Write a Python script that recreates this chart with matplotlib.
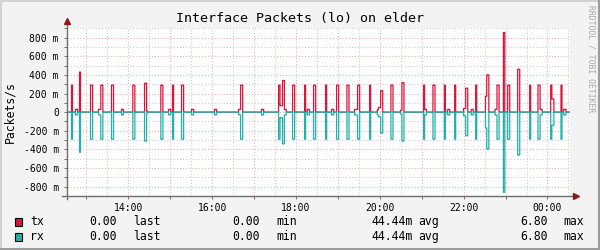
import numpy as np
import matplotlib
matplotlib.use('Agg')
import matplotlib.pyplot as plt
from matplotlib.patches import Rectangle
from matplotlib.lines import Line2D

plt.rcParams['font.family'] = ['DejaVu Sans Mono', 'DejaVu Sans']

# bursts on lo: start (hh:mm), length (min), tx and rx rate (packets/s)
ev_start = ['12:38.7', '12:44.4', '12:50.1', '13:05.9', '13:17.3', '13:20.6', '13:35.9', '13:50.3',
            '14:06.4', '14:23.2', '14:26.1', '14:46.5', '14:57.6', '15:03.3', '15:16.2', '15:30.5',
            '16:03.4', '16:37.8', '16:40.7', '17:10.7', '17:35.1', '17:37.1', '17:40.7', '17:43.4',
            '17:55.1', '18:12.3', '18:16.2', '18:25.2', '18:42.4', '18:51.0', '18:58.1', '19:12.9',
            '19:23.9', '19:28.2', '19:45.4', '19:56.4', '19:58.0', '20:01.2', '20:15.9', '20:29.5',
            '20:31.6', '21:02.7', '21:04.1', '21:16.0', '21:32.4', '21:37.1', '21:47.1', '22:00.0',
            '22:02.9', '22:10.7', '22:17.2', '22:31.2', '22:33.1', '22:44.8', '22:47.7', '22:56.9',
            '23:03.0', '23:17.3', '23:34.5', '23:46.4', '23:49.4', '00:04.6', '00:06.2', '00:19.3',
            '00:23.2']
ev_len = [1.4, 2.9, 1.4, 2.9, 3.3, 2.9, 2.9, 2.6,
          2.9, 2.9, 1.4, 2.9, 2.9, 1.4, 2.9, 2.9,
          2.9, 2.9, 2.9, 2.9, 2.0, 3.6, 2.7, 2.5,
          2.9, 1.4, 2.9, 2.9, 1.4, 2.9, 2.9, 2.9,
          4.3, 2.9, 1.4, 1.6, 3.2, 2.9, 2.9, 2.1,
          2.9, 1.4, 2.6, 2.9, 1.4, 2.9, 1.4, 2.9,
          2.9, 2.9, 1.4, 1.9, 2.9, 2.9, 2.9, 1.9,
          2.9, 2.9, 1.4, 3.0, 2.9, 1.6, 2.9, 1.4,
          3.3]
ev_tx = [0.29, 0.03, 0.43, 0.29, 0.03, 0.29, 0.29, 0.03,
         0.29, 0.31, 0.01, 0.29, 0.03, 0.29, 0.29, 0.03,
         0.03, 0.03, 0.29, 0.03, 0.29, 0.07, 0.34, 0.03,
         0.29, 0.29, 0.03, 0.29, 0.29, 0.03, 0.29, 0.29,
         0.03, 0.29, 0.29, 0.025, 0.05, 0.23, 0.29, 0.02,
         0.317, 0.29, 0.03, 0.29, 0.29, 0.03, 0.29, 0.04,
         0.257, 0.03, 0.29, 0.17, 0.40, 0.03, 0.29, 0.855,
         0.29, 0.46, 0.29, 0.29, 0.03, 0.29, 0.14, 0.29,
         0.03]
ev_rx = [0.29, 0.03, 0.43, 0.29, 0.03, 0.29, 0.29, 0.03,
         0.29, 0.31, 0.01, 0.29, 0.03, 0.29, 0.29, 0.03,
         0.03, 0.03, 0.29, 0.03, 0.29, 0.06, 0.34, 0.03,
         0.29, 0.29, 0.03, 0.29, 0.29, 0.03, 0.29, 0.29,
         0.03, 0.29, 0.29, 0.03, 0.05, 0.225, 0.29, 0.02,
         0.31, 0.29, 0.03, 0.29, 0.29, 0.03, 0.29, 0.04,
         0.253, 0.03, 0.29, 0.17, 0.396, 0.03, 0.29, 0.86,
         0.29, 0.46, 0.29, 0.29, 0.03, 0.29, 0.14, 0.29,
         0.03]
# missing sample (unknown)
gap_start = ['20:45.5']
gap_len = [1.8]

x_start, x_end = '12:31.5', '00:31.5'
y_lim = 0.9
ytick_vals = [-0.8, -0.6, -0.4, -0.2, 0.0, 0.2, 0.4, 0.6, 0.8]
ytick_labels = ['-800 m', '-600 m', '-400 m', '-200 m', '0', '200 m', '400 m', '600 m', '800 m']
xtick_hours = [14, 16, 18, 20, 22, 24]
xtick_labels = ['14:00', '16:00', '18:00', '20:00', '22:00', '00:00']

leg_names = ['tx', 'rx']
leg_colors = ['#dc143c', '#20b2aa']
leg_last = ['0.00', '0.00']
leg_min = ['0.00', '0.00']
leg_avg = ['44.44m', '44.44m']
leg_max = ['6.80', '6.80']

title = 'Interface Packets (lo) on elder'
ylabel = 'Packets/s'
watermark = 'RRDTOOL / TOBI OETIKER'


def to_min(s):
    h, m = s.split(':')
    h = int(h)
    if h < 12:
        h += 24
    return h * 60 + float(m)


t = np.arange(to_min(x_start), to_min(x_end) + 0.05, 0.05)
tx = np.zeros_like(t)
rx = np.zeros_like(t)
for s, d, a, b in zip(ev_start, ev_len, ev_tx, ev_rx):
    m = (t >= to_min(s) - 1e-9) & (t < to_min(s) + d)
    tx[m] = a
    rx[m] = b
for s, d in zip(gap_start, gap_len):
    m = (t >= to_min(s)) & (t < to_min(s) + d)
    tx[m] = np.nan
    rx[m] = np.nan
hours = t / 60.

W, H = 600, 250
fig = plt.figure(figsize=(W / 100, H / 100), dpi=100, facecolor='#f3f3f3')
ax = fig.add_axes([66.5 / W, 1 - 196 / H, 503 / W, 167.7 / H])
ax.set_facecolor('white')
ax.set_xlim(to_min(x_start) / 60, to_min(x_end) / 60)
ax.set_ylim(-y_lim, y_lim)

# grid: red every hour / 200m, grey every 30 min / 100m
major_col = '#f2a8a8'
minor_col = '#c9c9c9'
dots = (0, (1, 2))
for hh in np.arange(np.ceil(ax.get_xlim()[0] * 2) / 2, ax.get_xlim()[1], 0.5):
    col = major_col if hh == int(hh) else minor_col
    ax.axvline(hh, color=col, lw=0.75, ls=dots, zorder=1)
for yy in np.arange(-0.9, 0.901, 0.1):
    k = int(round(yy * 10))
    if k == -9:
        continue
    col = major_col if k % 2 == 0 else minor_col
    ax.axhline(yy, color=col, lw=0.75, ls=dots, zorder=1)

ax.plot(hours, tx, drawstyle='steps-post', color=leg_colors[0], lw=0.9, zorder=3)
ax.plot(hours, -rx, drawstyle='steps-post', color=leg_colors[1], lw=0.9, zorder=4)

for sp in ax.spines.values():
    sp.set_visible(False)
ax.set_xticks(xtick_hours, xtick_labels)
ax.set_xticks(np.arange(13, 25), minor=True)
ax.set_yticks(ytick_vals, ytick_labels)
ax.set_yticks(np.arange(-0.9, 0.91, 0.1), minor=True)
ax.tick_params(which='both', direction='out', length=2, width=0.7, color='#707070',
               labelsize=7, labelcolor='black')
ax.tick_params(axis='x', pad=3)
ax.tick_params(axis='y', pad=3.5)

# axes with arrow heads like rrdtool
axis_col = '#6e6e6e'
arrow_col = '#8b1a1a'
ax.add_line(Line2D([0, 0], [-0.02, 1.04], transform=ax.transAxes, color=axis_col,
                   lw=1, clip_on=False, zorder=5))
ax.add_line(Line2D([-0.008, 1.01], [0, 0], transform=ax.transAxes, color=axis_col,
                   lw=1, clip_on=False, zorder=5))
ax.plot([0], [1.045], marker='^', ms=4.5, color=arrow_col, transform=ax.transAxes,
        clip_on=False, zorder=6)
ax.plot([1.012], [0], marker='>', ms=4.5, color=arrow_col, transform=ax.transAxes,
        clip_on=False, zorder=6)

fig.text(0.5, 1 - 18.5 / H, title, ha='center', va='center', fontsize=9.6)
fig.text(10 / W, 1 - 112 / H, ylabel, ha='center', va='center', rotation=90, fontsize=8.3)
fig.text(591 / W, 1 - 59 / H, watermark, ha='center', va='center', rotation=270,
         fontsize=5.8, color='#a8a8a8')

# legend rows
row_y = [221.7, 236.7]
for i in range(2):
    y = 1 - row_y[i] / H
    fig.add_artist(Rectangle((15 / W, y - 4 / H), 7 / W, 8 / H, facecolor=leg_colors[i],
                             edgecolor='black', lw=0.8, transform=fig.transFigure))
    fig.text(30 / W, y, leg_names[i], ha='left', va='center', fontsize=8.3)
    fig.text(117 / W, y, leg_last[i], ha='right', va='center', fontsize=8.3)
    fig.text(133 / W, y, 'last', ha='left', va='center', fontsize=8.3)
    fig.text(260 / W, y, leg_min[i], ha='right', va='center', fontsize=8.3)
    fig.text(276 / W, y, 'min', ha='left', va='center', fontsize=8.3)
    fig.text(413 / W, y, leg_avg[i], ha='right', va='center', fontsize=8.3)
    fig.text(418 / W, y, 'avg', ha='left', va='center', fontsize=8.3)
    fig.text(548 / W, y, leg_max[i], ha='right', va='center', fontsize=8.3)
    fig.text(563 / W, y, 'max', ha='left', va='center', fontsize=8.3)

# shaded frame around the canvas
fig.add_artist(Line2D([0, 1], [1 - 0.5 / H, 1 - 0.5 / H], color='#d2d2d2', lw=1.4))
fig.add_artist(Line2D([0.5 / W, 0.5 / W], [0, 1], color='#d2d2d2', lw=1.4))
fig.add_artist(Line2D([0, 1], [1 / H, 1 / H], color='#9c9c9c', lw=1.5))
fig.add_artist(Line2D([1 - 1 / W, 1 - 1 / W], [0, 1], color='#9c9c9c', lw=1.5))

fig.savefig('out.png', dpi=100, facecolor=fig.get_facecolor())
